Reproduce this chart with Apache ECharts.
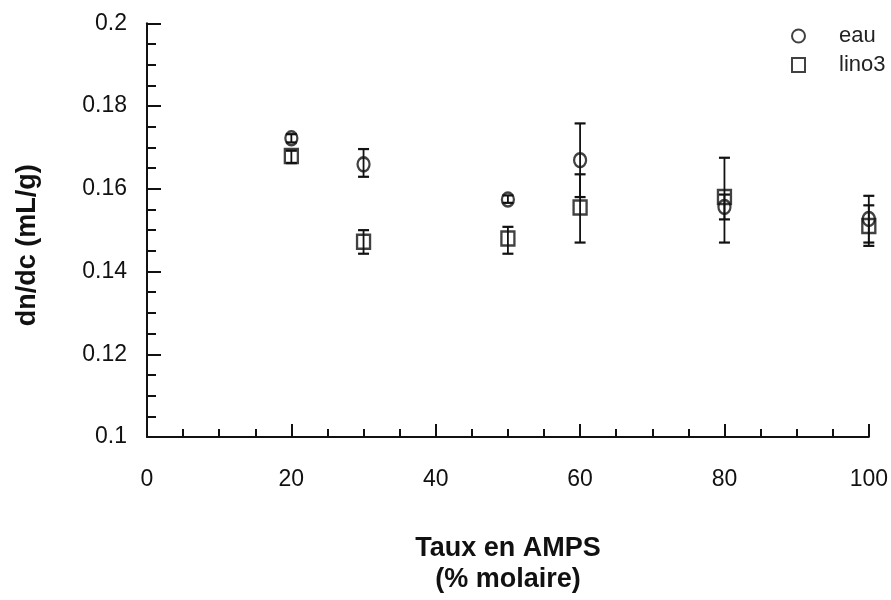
<!DOCTYPE html>
<html>
<head>
<meta charset="utf-8">
<script src="https://cdn.jsdelivr.net/npm/echarts@6/dist/echarts.min.js"></script>
<style>html,body{margin:0;padding:0;background:#fff}#c{width:891px;height:600px}</style>
</head>
<body>
<div id="c"></div>
<script>
const xValues = [20, 30, 50, 60, 80, 100];
const eau = [0.1722, 0.1659, 0.1574, 0.1669, 0.1556, 0.1527];
const eauLow = [0.1712, 0.1629, 0.1566, 0.1580, 0.1526, 0.1462];
const eauHigh = [0.1732, 0.1696, 0.1584, 0.1758, 0.1586, 0.1583];
const lino3 = [0.1679, 0.1472, 0.1480, 0.1555, 0.1580, 0.1510];
const lino3Low = [0.1662, 0.1443, 0.1443, 0.1470, 0.1470, 0.1470];
const lino3High = [0.1692, 0.1500, 0.1508, 0.1635, 0.1675, 0.1560];
const xTicks = [0, 20, 40, 60, 80, 100];
const yTicks = [0.1, 0.12, 0.14, 0.16, 0.18, 0.2];

const FONT = 'Liberation Sans, Arial, Helvetica, sans-serif';

function pairs(xs, ys) { return xs.map((x, i) => [x, ys[i]]); }
function errData(xs, lo, hi) { return xs.map((x, i) => [x, lo[i], hi[i]]); }

function renderErr(params, api) {
  const x = api.value(0);
  const lo = api.coord([x, api.value(1)]);
  const hi = api.coord([x, api.value(2)]);
  const hw = 5.5;
  const st = { stroke: '#111', lineWidth: 1.8 };
  return {
    type: 'group',
    children: [
      { type: 'line', shape: { x1: lo[0], y1: lo[1], x2: hi[0], y2: hi[1] }, style: st },
      { type: 'line', shape: { x1: lo[0] - hw, y1: lo[1], x2: lo[0] + hw, y2: lo[1] }, style: { stroke: '#111', lineWidth: 2.2 } },
      { type: 'line', shape: { x1: hi[0] - hw, y1: hi[1], x2: hi[0] + hw, y2: hi[1] }, style: { stroke: '#111', lineWidth: 2.2 } }
    ]
  };
}

const chart = echarts.init(document.getElementById('c'), null, { renderer: 'canvas' });
chart.setOption({
  backgroundColor: '#fff',
  animation: false,
  grid: { left: 147, right: 20, top: 23.3, bottom: 156.7, containLabel: false },
  legend: {
    orient: 'vertical',
    left: 786,
    top: 20,
    itemWidth: 13,
    itemHeight: 14,
    itemGap: 7,
    data: ['eau', 'lino3'],
    textStyle: { fontFamily: FONT, fontSize: 22, color: '#222', padding: [0, 0, 0, 29] }
  },
  xAxis: {
    type: 'value',
    min: 0, max: 100, interval: 20,
    name: 'Taux en AMPS\n(% molaire)',
    nameLocation: 'middle',
    nameGap: 96,
    nameTextStyle: { fontFamily: FONT, fontSize: 27, fontWeight: 'bold', color: '#111', lineHeight: 31 },
    axisLine: { show: true, onZero: false, lineStyle: { color: '#111', width: 2 } },
    axisTick: { show: true, inside: true, length: 13, lineStyle: { color: '#111', width: 2 } },
    minorTick: { show: true, splitNumber: 4, length: 8, lineStyle: { color: '#111', width: 2 } },
    splitLine: { show: false },
    axisLabel: {
      margin: 31, fontFamily: FONT, fontSize: 23, color: '#111',
      formatter: v => xTicks.includes(v) ? String(v) : ''
    }
  },
  yAxis: {
    type: 'value',
    min: 0.1, max: 0.2, interval: 0.02,
    name: 'dn/dc (mL/g)',
    nameLocation: 'middle',
    nameRotate: 90,
    nameGap: 106,
    nameTextStyle: { fontFamily: FONT, fontSize: 27, fontWeight: 'bold', color: '#111', padding: [0, 30, 0, 0] },
    axisLine: { show: true, onZero: false, lineStyle: { color: '#111', width: 2 } },
    axisTick: { show: true, inside: true, length: 14, lineStyle: { color: '#111', width: 2 } },
    minorTick: { show: true, splitNumber: 4, length: 9, lineStyle: { color: '#111', width: 2 } },
    splitLine: { show: false },
    axisLabel: {
      margin: 20, fontFamily: FONT, fontSize: 23, color: '#111',
      formatter: v => {
        const t = yTicks.find(y => Math.abs(y - v) < 1e-9);
        return t === undefined ? '' : String(parseFloat(t.toFixed(2)));
      }
    }
  },
  series: [
    {
      name: 'eau', type: 'scatter', symbol: 'circle', symbolSize: [12, 14],
      itemStyle: { color: 'rgba(255,255,255,0)', borderColor: '#111', borderWidth: 2.4 },
      data: pairs(xValues, eau), z: 3
    },
    {
      name: 'lino3', type: 'scatter', symbol: 'rect', symbolSize: [13, 14],
      itemStyle: { color: 'rgba(255,255,255,0)', borderColor: '#111', borderWidth: 2.4 },
      data: pairs(xValues, lino3), z: 3
    },
    {
      name: 'eau-err', type: 'custom', renderItem: renderErr,
      data: errData(xValues, eauLow, eauHigh), encode: { x: 0, y: [1, 2] }, z: 4
    },
    {
      name: 'lino3-err', type: 'custom', renderItem: renderErr,
      data: errData(xValues, lino3Low, lino3High), encode: { x: 0, y: [1, 2] }, z: 4
    }
  ]
});
</script>
</body>
</html>
